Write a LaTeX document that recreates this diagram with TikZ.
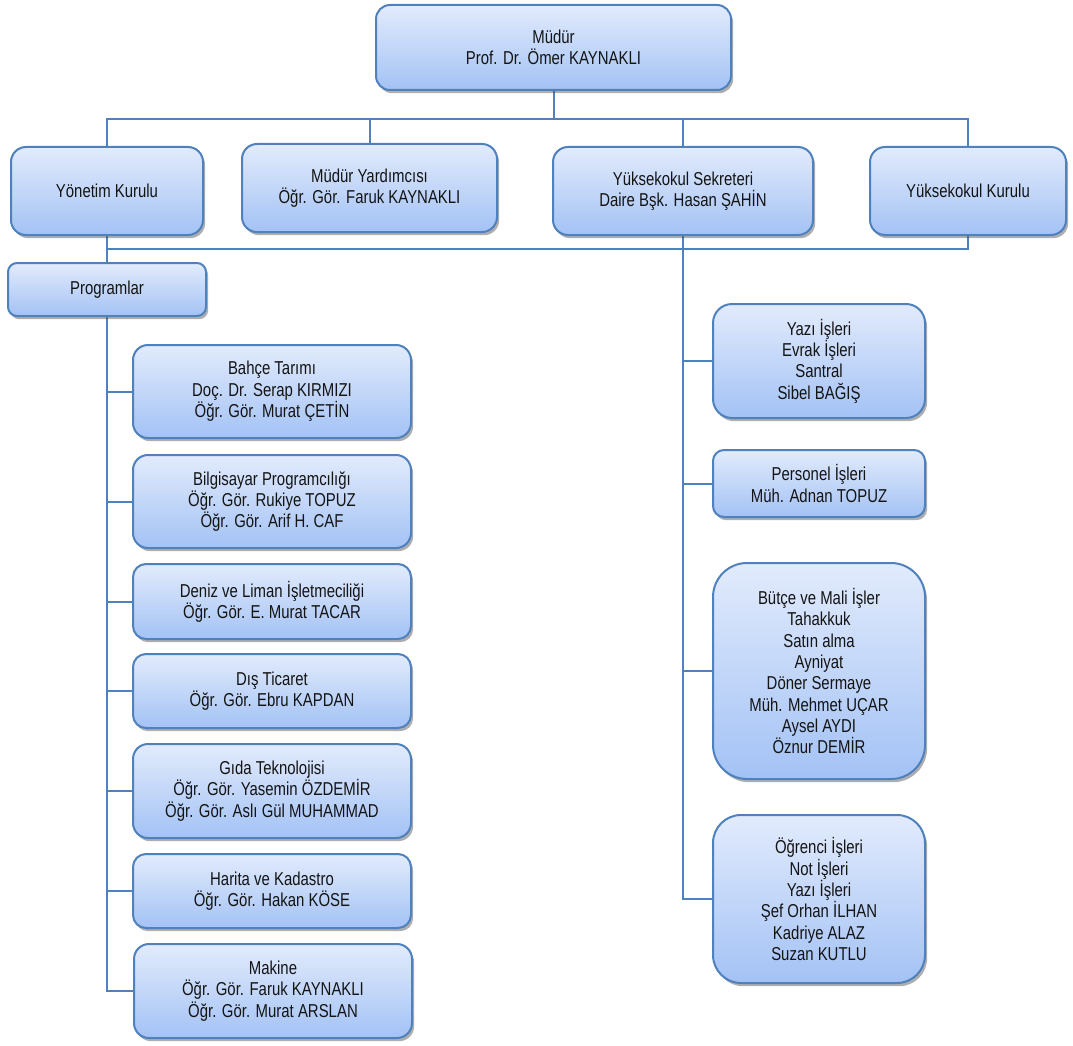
\documentclass[tikz,border=0pt]{standalone}
\usepackage{fontspec}
\setmainfont[FakeStretch=0.80]{Liberation Sans}
\usetikzlibrary{shadows,backgrounds}
\definecolor{bcol}{RGB}{79,129,189}
\definecolor{ftop}{RGB}{226,235,252}
\definecolor{fbot}{RGB}{163,194,245}
\definecolor{tcol}{RGB}{20,20,20}
\tikzset{
  box/.style n args={3}{draw=bcol, line width=1.5pt, top color=ftop, bottom color=fbot,
    align=center, inner sep=0pt, text=tcol,
    minimum width=#1*0.75pt, minimum height=#2*0.75pt, rounded corners=#3*0.75pt,
    font=\fontsize{14}{16}\selectfont,
    drop shadow={shadow xshift=1.6pt, shadow yshift=-2.4pt, opacity=0.45, fill=black!70}},
  conn/.style={draw=bcol, line width=1.5pt}
}
\begin{document}
\begin{tikzpicture}[x=0.75pt, y=-0.75pt]
\useasboundingbox (0,0) rectangle (1073,1045);
% top level
\node[box={355}{85}{14}] (mudur) at (553.5,47.5) {Müdür\\Prof. Dr. Ömer KAYNAKLI};
\node[box={192}{88}{15}] (yk) at (107,191) {Yönetim Kurulu};
\node[box={255}{88}{15}] (my) at (369.5,188) {Müdür Yardımcısı\\Öğr. Gör. Faruk KAYNAKLI};
\node[box={260}{88}{15}] (ys) at (683,191) {Yüksekokul Sekreteri\\Daire Bşk. Hasan ŞAHİN};
\node[box={196}{88}{15}] (ykk) at (968,191) {Yüksekokul Kurulu};
\node[box={198}{53}{9}] (prog) at (107,289.5) {Programlar};
% programs
\node[box={278}{93}{15}] (bahce) at (272,391.5) {Bahçe Tarımı\\Doç. Dr. Serap KIRMIZI\\Öğr. Gör. Murat ÇETİN};
\node[box={278}{93}{15}] (bilg) at (272,501.5) {Bilgisayar Programcılığı\\Öğr. Gör. Rukiye TOPUZ\\Öğr. Gör. Arif H. CAF};
\node[box={278}{75}{13}] (deniz) at (272,601.5) {Deniz ve Liman İşletmeciliği\\Öğr. Gör. E. Murat TACAR};
\node[box={278}{74}{13}] (dis) at (272,691) {Dış Ticaret\\Öğr. Gör. Ebru KAPDAN};
\node[box={278}{94}{15}] (gida) at (272,791) {Gıda Teknolojisi\\Öğr. Gör. Yasemin ÖZDEMİR\\Öğr. Gör. Aslı Gül MUHAMMAD};
\node[box={278}{74}{13}] (harita) at (272,891) {Harita ve Kadastro\\Öğr. Gör. Hakan KÖSE};
\node[box={278}{94}{15}] (makine) at (273,991) {Makine\\Öğr. Gör. Faruk KAYNAKLI\\Öğr. Gör. Murat ARSLAN};
% secretary units
\node[box={212}{114}{19}] (yazi) at (819,361) {Yazı İşleri\\Evrak İşleri\\Santral\\Sibel BAĞIŞ};
\node[box={212}{67}{11}] (pers) at (819,483.5) {Personel İşleri\\Müh. Adnan TOPUZ};
\node[box={212}{216}{34}] (butce) at (819,671) {Bütçe ve Mali İşler\\Tahakkuk\\Satın alma\\Ayniyat\\Döner Sermaye\\Müh. Mehmet UÇAR\\Aysel AYDI\\Öznur DEMİR};
\node[box={212}{168}{28}] (ogr) at (819,899) {Öğrenci İşleri\\Not İşleri\\Yazı İşleri\\Şef Orhan İLHAN\\Kadriye ALAZ\\Suzan KUTLU};
\coordinate (top) at (553.5,119);
\coordinate (bot) at (553.5,249);
\begin{scope}[on background layer]
\draw[conn] (mudur.south) -- (top);
\draw[conn] (yk.north) |- (top) -| (ykk.north);
\draw[conn] (my.north) -- (my.north |- top);
\draw[conn] (ys.north) -- (ys.north |- top);
\draw[conn] (yk.south) -- (prog.north);
\draw[conn] (yk.south |- bot) -| (ykk.south);
\draw[conn] (ys.south) |- (ogr.west);
\draw[conn] (ys.south |- yazi.west) -- (yazi.west);
\draw[conn] (ys.south |- pers.west) -- (pers.west);
\draw[conn] (ys.south |- butce.west) -- (butce.west);
\draw[conn] (prog.south) |- (makine.west);
\foreach \n in {bahce,bilg,deniz,dis,gida,harita}
  \draw[conn] (prog.south |- \n.west) -- (\n.west);
\end{scope}
\end{tikzpicture}
\end{document}
